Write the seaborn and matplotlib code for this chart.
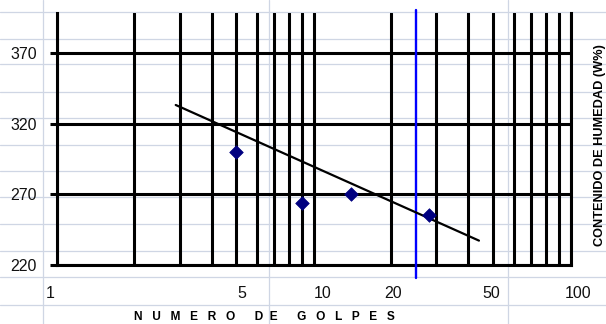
import matplotlib
matplotlib.use("Agg")
import matplotlib.pyplot as plt
from matplotlib.lines import Line2D
from matplotlib.ticker import FixedLocator, NullFormatter
import seaborn as sns
import pandas as pd

# Ensayo de límite líquido (Casagrande)
golpes = [5, 9, 14, 28]
humedad = [300, 264, 270.5, 255]

# Recta de flujo
recta_golpes = [2.9, 44]
recta_humedad = [333.4, 237.1]

# Línea de referencia a 25 golpes
ref_golpes = [25, 25]
ref_humedad = [210.5, 401]

x_ticks = [1, 5, 10, 20, 50, 100]
x_tick_labels = ["1", "5", "10", "20", "50", "100"]
y_ticks = [220, 270, 320, 370]

sns.set_theme(style="white")
plt.rcParams["font.family"] = ["Liberation Sans", "DejaVu Sans"]

W, H = 606, 324
fig = plt.figure(figsize=(W / 100, H / 100), dpi=100)
fig.patch.set_facecolor("white")

# worksheet cell grid behind the chart
cell_rows = [12.3, 39, 64.3, 92.3, 118.3, 145, 171.3, 197, 224.3, 251.3, 277, 304.7]
cell_cols = [42.7, 269, 507.7]
for yp in cell_rows:
    fig.add_artist(Line2D([0, 1], [1 - yp / H] * 2, transform=fig.transFigure,
                          color="#cfd6e4", lw=0.9, zorder=-5))
for xp in cell_cols:
    fig.add_artist(Line2D([xp / W] * 2, [0, 1], transform=fig.transFigure,
                          color="#cfd6e4", lw=0.9, zorder=-5))

left, right, top, bottom = 57, 570.5, 13.3, 264.7
ax = fig.add_axes([left / W, 1 - bottom / H, (right - left) / W, (bottom - top) / H])
ax.patch.set_alpha(0)

ax.set_xscale("log")
ax.set_xlim(1, 100)
ax.set_ylim(220, 398.5)

grid_lw = 2.2
xgrid = list(range(1, 10)) + list(range(10, 101, 10))
ax.xaxis.set_major_locator(FixedLocator(xgrid))
ax.xaxis.set_minor_locator(FixedLocator([]))
ax.xaxis.set_major_formatter(NullFormatter())
ax.tick_params(axis="x", length=0)
ax.set_yticks(y_ticks)
ax.tick_params(axis="y", length=5, width=grid_lw, color="black", pad=9.4,
               labelsize=11.5, labelcolor="#111111", left=True)
ax.grid(True, axis="both", color="black", lw=grid_lw, zorder=1)
ax.set_axisbelow(True)

for side in ["left", "right", "bottom"]:
    ax.spines[side].set_visible(True)
    ax.spines[side].set_color("black")
    ax.spines[side].set_linewidth(grid_lw)
ax.spines["top"].set_visible(False)

# reference line at 25 blows
ax.plot(ref_golpes, ref_humedad, color="#0000ff", lw=1.7, clip_on=False, zorder=3)

# flow line
sns.lineplot(x=recta_golpes, y=recta_humedad, ax=ax, color="black", lw=1.6,
             sort=False, zorder=4)

# test points
datos = pd.DataFrame({"golpes": golpes, "humedad": humedad})
sns.scatterplot(data=datos, x="golpes", y="humedad", ax=ax, marker="D", s=48,
                color="#000080", edgecolor="#000080", linewidth=0.5, zorder=5)

ax.set_xlabel("")
ax.set_ylabel("")

# number-of-blows labels under the axis
nudges = [-6.5, 5.5, 9, 2, -1.5, 7.5]
for v, lbl, dx in zip(x_ticks, x_tick_labels, nudges):
    ax.annotate(lbl, xy=(v, 0), xycoords=("data", "axes fraction"),
                xytext=(dx, -28.8), textcoords="offset pixels",
                ha="center", va="center", fontsize=11.5, color="#111111")

fig.text(264 / W, 1 - 316.5 / H,
         "N   U   M   E   R   O      D  E      G   O   L   P   E   S",
         ha="center", va="center", fontsize=8.6, fontweight="bold", color="black")
fig.text(600.5 / W, 1 - 145 / H, "CONTENIDO DE HUMEDAD (W%)", rotation=90,
         ha="center", va="center", fontsize=9.2, fontweight="bold", color="black")

fig.savefig("out.png", dpi=100)
